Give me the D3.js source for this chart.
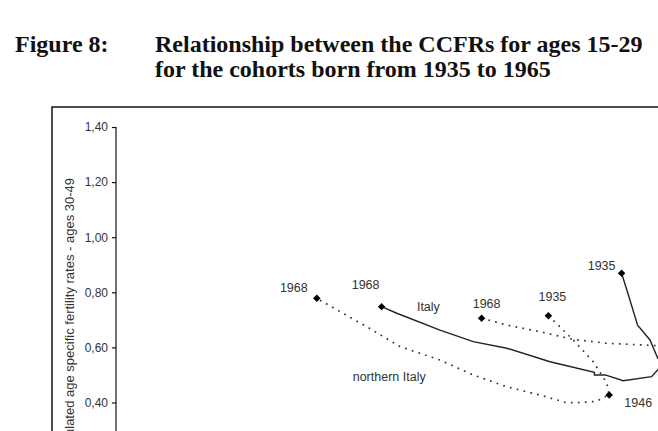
<!DOCTYPE html>
<html>
<head>
<meta charset="utf-8">
<script src="https://cdn.jsdelivr.net/npm/d3@7/dist/d3.min.js"></script>
<style>
  html, body { margin: 0; padding: 0; background: #fff; }
  svg { display: block; }
</style>
</head>
<body>
<svg id="chart" width="658" height="431"></svg>
<script>
// ---- Data ----
const titleLines = ["Relationship between the CCFRs for ages 15-29", "for the cohorts born from 1935 to 1965"];
const figureLabel = "Figure 8:";
const yAxisTitle = "Cumulated age specific fertility rates - ages 30-49";
const yTicks = [0.40, 0.60, 0.80, 1.00, 1.20, 1.40];

// Italy (solid), cohorts 1935 -> 1968 : [CCFR 15-29, CCFR 30-49]
const italy = [
  [1.464, 0.869], [1.481, 0.790], [1.504, 0.681], [1.535, 0.627], [1.554, 0.562],
  [1.565, 0.540], [1.554, 0.518], [1.539, 0.494], [1.468, 0.479], [1.423, 0.500],
  [1.396, 0.500], [1.396, 0.510], [1.285, 0.548], [1.177, 0.597], [1.093, 0.621],
  [1.010, 0.663], [0.902, 0.724], [0.864, 0.748]
];
// northern Italy (dotted), cohorts 1935 -> 1946 -> 1968
const northItaly = [
  [1.281, 0.715], [1.310, 0.675], [1.343, 0.627], [1.393, 0.548], [1.427, 0.471],
  [1.433, 0.427], [1.418, 0.418], [1.402, 0.404], [1.360, 0.400], [1.327, 0.399],
  [1.260, 0.427], [1.177, 0.457], [1.093, 0.500], [1.010, 0.554], [0.910, 0.603],
  [0.827, 0.675], [0.760, 0.730], [0.702, 0.778]
];
// third region (dotted), cohorts 1968 -> towards 1935 (beyond the visible area)
const southItaly = [
  [1.114, 0.706], [1.177, 0.681], [1.260, 0.657], [1.343, 0.629], [1.427, 0.615],
  [1.543, 0.607], [1.635, 0.601]
];
// labelled cohort markers
const markers = [
  { x: 0.702, y: 0.778, label: "1968", dx: -23, dy: -6 },
  { x: 0.864, y: 0.748, label: "1968", dx: -16, dy: -18 },
  { x: 1.114, y: 0.706, label: "1968", dx: 5, dy: -10 },
  { x: 1.281, y: 0.715, label: "1935", dx: 4, dy: -15 },
  { x: 1.464, y: 0.869, label: "1935", dx: -20, dy: -3 },
  { x: 1.433, y: 0.427, label: "1946", dx: 29, dy: 12 }
];
const seriesLabels = [
  { x: 0.981, y: 0.733, label: "Italy" },
  { x: 0.883, y: 0.479, label: "northern Italy" }
];

// ---- Drawing ----
const svg = d3.select("#chart");

const x = d3.scaleLinear().domain([0.20, 1.80]).range([116, 756]);
const y = d3.scaleLinear().domain([0.00, 1.40]).range([512.7, 127]);

// Title
const tg = svg.append("g")
  .attr("font-family", "'Liberation Serif', 'Times New Roman', serif")
  .attr("font-weight", "bold").attr("font-size", 24).attr("fill", "#111");
tg.append("text").attr("x", 15).attr("y", 52).text(figureLabel);
titleLines.forEach((t, i) => {
  tg.append("text").attr("x", 155).attr("y", 52 + i * 25).text(t);
});

// outer frame
svg.append("rect")
  .attr("x", 52).attr("y", 107).attr("width", 700).attr("height", 400)
  .attr("fill", "none").attr("stroke", "#111").attr("stroke-width", 1.5);

// clip region for plot
svg.append("clipPath").attr("id", "clip")
  .append("rect").attr("x", 53).attr("y", 108).attr("width", 700).attr("height", 400);

// y axis
const yAxis = d3.axisLeft(y)
  .tickValues(yTicks)
  .tickSize(4)
  .tickPadding(4)
  .tickFormat(d => d3.format(".2f")(d).replace(".", ","));
const ya = svg.append("g").attr("transform", "translate(116,0)").call(yAxis);
ya.select(".domain").attr("d", `M0,${y(1.40)}V${y(0)}`).attr("stroke", "#111").attr("stroke-width", 1.2);
ya.selectAll(".tick line").attr("stroke", "#111").attr("stroke-width", 1.2);
ya.selectAll(".tick text")
  .attr("font-family", "Arial, 'Liberation Sans', sans-serif")
  .attr("font-size", 12).attr("fill", "#333");

// y axis title
svg.append("text")
  .attr("transform", `translate(73.5,178) rotate(-90)`)
  .attr("text-anchor", "end")
  .attr("font-family", "Arial, 'Liberation Sans', sans-serif")
  .attr("font-size", 13).attr("fill", "#333")
  .text(yAxisTitle);

const plot = svg.append("g").attr("clip-path", "url(#clip)");
const line = d3.line().x(d => x(d[0])).y(d => y(d[1]));

plot.append("path").datum(italy).attr("d", line)
  .attr("fill", "none").attr("stroke", "#222").attr("stroke-width", 1.4);

[northItaly, southItaly].forEach(s => {
  plot.append("path").datum(s).attr("d", line)
    .attr("fill", "none").attr("stroke", "#333").attr("stroke-width", 1.7)
    .attr("stroke-dasharray", "1.7,5.3");
});

// markers (diamonds)
plot.selectAll(".mk").data(markers).enter().append("path")
  .attr("d", d3.symbol().type(d3.symbolSquare).size(28))
  .attr("transform", d => `translate(${x(d.x)},${y(d.y)}) rotate(45)`)
  .attr("fill", "#000");

const lab = svg.append("g")
  .attr("font-family", "Arial, 'Liberation Sans', sans-serif")
  .attr("font-size", 12.5).attr("fill", "#333").attr("text-anchor", "middle");
markers.forEach(d => {
  lab.append("text").attr("x", x(d.x) + d.dx).attr("y", y(d.y) + d.dy).text(d.label);
});
seriesLabels.forEach(d => {
  lab.append("text").attr("x", x(d.x)).attr("y", y(d.y)).text(d.label);
});
</script>
</body>
</html>
